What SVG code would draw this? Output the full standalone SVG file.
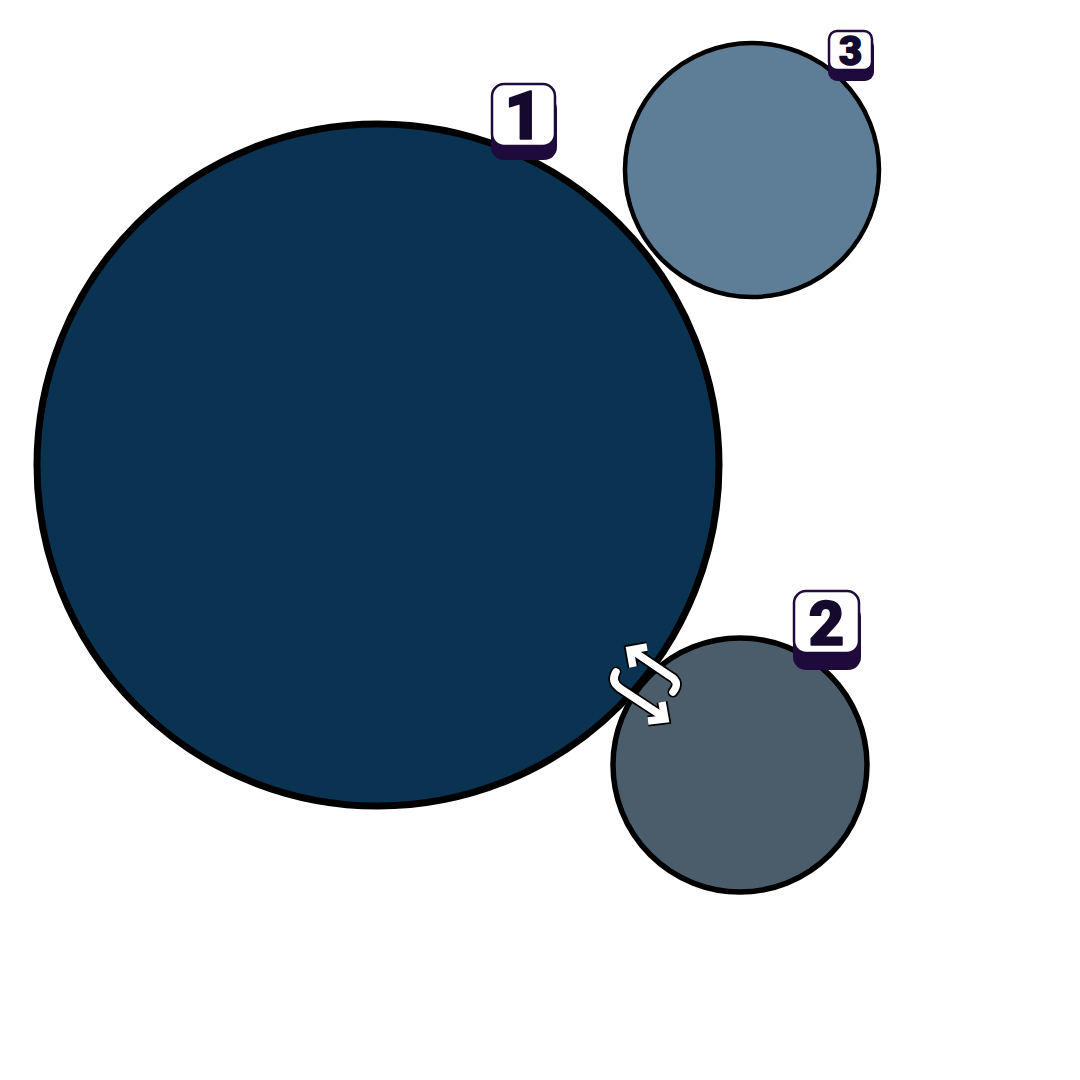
<svg xmlns="http://www.w3.org/2000/svg" width="1080" height="1080" viewBox="0 0 1080 1080">
<style>
.node{stroke:#000;}
.face{fill:#fff;stroke:#1e0b3c;stroke-width:2.5;}
.shadow{fill:#1e0b3c;}
.num{font-family:Roboto,"Open Sans","Liberation Sans",sans-serif;font-weight:900;fill:#150a2e;stroke:#150a2e;stroke-width:1.5;stroke-linejoin:round;text-anchor:middle;}
.outline{fill:none;stroke:#000;stroke-width:11;}
.inner{fill:none;stroke:#fff;stroke-width:7.5;}
</style>
<rect width="1080" height="1080" fill="#fff"/>
<g id="node1">
<circle class="node" cx="378" cy="465" r="341" fill="#0a3352" stroke-width="7"/>
</g>
<g id="node3">
<circle class="node" cx="752" cy="170" r="127" fill="#5e7d97" stroke-width="4.5"/>
</g>
<g id="node2">
<circle class="node" cx="740" cy="765" r="127" fill="#4b5d6b" stroke-width="5.5"/>
</g>
<g id="connectors">
<g stroke-linecap="round" stroke-linejoin="miter">
<path class="outline" d="M673 692 Q681 682 670 676 L633 651"/>
<path class="outline" d="M647 647 L630 650 L633 667" stroke-linecap="butt"/>
<path class="outline" d="M616 672 Q610 682 621 689 L662 716"/>
<path class="outline" d="M662 702 L665 719 L648 721" stroke-linecap="butt"/>
<path class="inner" d="M673 692 Q681 682 670 676 L633 651"/>
<path class="inner" d="M647 647 L630 650 L633 667" stroke-linecap="butt"/>
<path class="inner" d="M616 672 Q610 682 621 689 L662 716"/>
<path class="inner" d="M662 702 L665 719 L648 721" stroke-linecap="butt"/>
</g>
</g>
<g id="badge1">
<rect class="shadow" x="491" y="96" width="66" height="64" rx="13"/>
<rect class="face" x="492" y="84" width="63" height="62" rx="12"/>
<text class="num" x="523.5" y="139" font-size="66">1</text>
</g>
<g id="badge2">
<rect class="shadow" x="793" y="604" width="68" height="66" rx="13"/>
<rect class="face" x="794" y="591" width="65" height="62" rx="12"/>
<text class="num" x="826.5" y="645" font-size="62">2</text>
</g>
<g id="badge3">
<rect class="shadow" x="828" y="38" width="46" height="43" rx="9"/>
<rect class="face" x="829" y="31" width="43" height="39" rx="8"/>
<text class="num" x="850.5" y="65" font-size="40">3</text>
</g>
</svg>
